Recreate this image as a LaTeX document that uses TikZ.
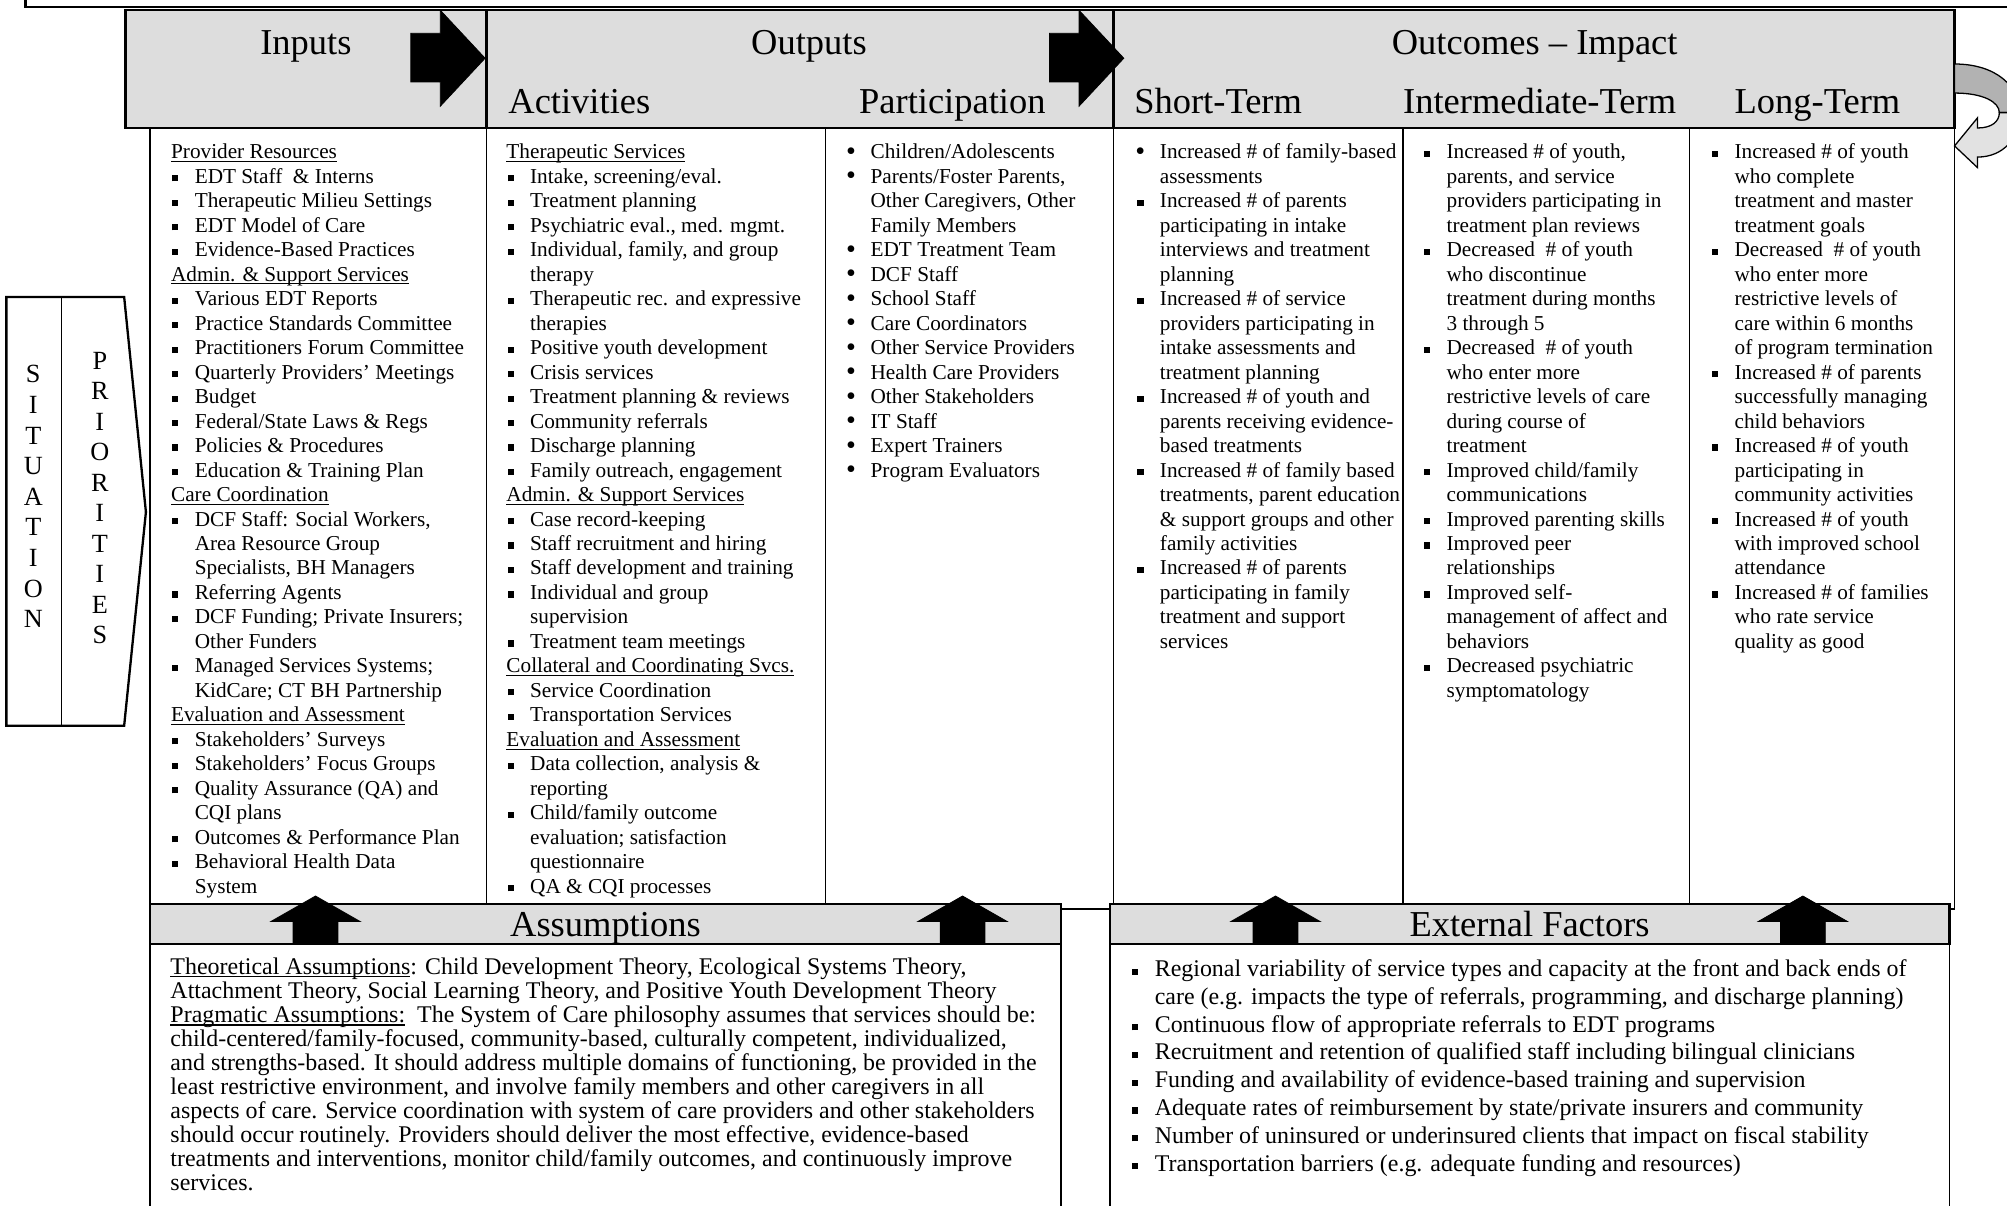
\documentclass[tikz,border=0pt]{standalone}
\usepackage{fontspec}
\setmainfont{Liberation Serif}
\definecolor{hdr}{RGB}{221,221,221}
\definecolor{darkband}{RGB}{178,178,178}
\definecolor{lightband}{RGB}{226,226,226}
\newcommand\bsq{\llap{\rule[1.5pt]{4.8pt}{4.8pt}\hspace{12.8pt}}}
\newcommand\bdt{\llap{\smash{\raisebox{-1.2pt}{\fontsize{22}{22}\selectfont\textbullet}}\hspace{11.5pt}}}
\newcommand\ulx[1]{\setbox0=\hbox{#1}\rlap{\rule[-2.6pt]{\wd0}{0.9pt}}\box0}
\newcommand\hd[1]{\hspace*{-18.5pt}\ulx{#1}}
\newcommand\colm[5]{\foreach \itm [count=\i from 0] in {#5} {\node[ln] (#1-\i) at (#2,{#3+\i*#4}) {\itm};}}
\begin{document}
\begin{tikzpicture}[x=1pt,y=-1pt,
  lnbase/.style={inner sep=0pt, anchor=base west},
  ln/.style={lnbase, font=\fontsize{16.6}{19.13}\selectfont},
  hdtxt/.style={inner sep=0pt, anchor=base, font=\fontsize{28.5}{30}\selectfont},
  blk/.style={fill=black, draw=black, line width=0.6pt, line join=miter},
  thin/.style={line width=1.2pt},
  thick/.style={line width=1.8pt}]
\clip (0,0) rectangle (1568,942);
\fill[white] (0,0) rectangle (1568,942);
% top border line
\draw[thick] (20,-2) -- (20,5.5) -- (1580,5.5);
% header
\draw[thick, fill=hdr] (98,8) rectangle (1527,100);
\draw[thick] (380,8) -- (380,100) (870,8) -- (870,100);
% content
\draw[thin] (117,100) rectangle (1527,710);
\foreach \x in {380,645,870,1096,1320} \draw[thin] (\x,100) -- (\x,706);
\draw[line width=2.2pt] (98,100) -- (1527,100);
% header texts
\node[hdtxt] (inputs) at (239,42.5) {Inputs};
\node[hdtxt] (outputs) at (632,42.5) {Outputs};
\node[hdtxt] (outcomes) at (1199,42.5) {Outcomes -- Impact};
\node[hdtxt, anchor=base west] (activities) at (397,88.5) {Activities};
\node[hdtxt, anchor=base west] (participation) at (671,88.5) {Participation};
\node[hdtxt, anchor=base west] (shortterm) at (886,88.5) {Short-Term};
\node[hdtxt, anchor=base west] (interterm) at (1096,88.5) {Intermediate-Term};
\node[hdtxt, anchor=base west] (longterm) at (1355,88.5) {Long-Term};
% header arrows
\foreach \t in {379,878}
  \fill[blk] ({\t-58},26) -- ({\t-35},26) -- ({\t-35},8) -- (\t,45.5) -- ({\t-35},83) -- ({\t-35},64) -- ({\t-58},64) -- cycle;
% situation / priorities
\draw[thick] (5,232) -- (97,232) -- (114,400) -- (97,567) -- (5,567) -- cycle;
\draw[thin] (48,232) -- (48,567);
\node[align=center, inner sep=0pt, font=\fontsize{20.5}{23.9}\selectfont] (situation) at (26,388) {S\\I\\T\\U\\A\\T\\I\\O\\N};
\node[align=center, inner sep=0pt, font=\fontsize{20.5}{23.8}\selectfont] (priorities) at (78,389) {P\\R\\I\\O\\R\\I\\T\\I\\E\\S};
% columns
\colm{ca}{152}{124}{19.13}{{\hd{Provider Resources}},
{\bsq EDT Staff\ \ \& Interns},
{\bsq Therapeutic Milieu Settings},
{\bsq EDT Model of Care},
{\bsq Evidence-Based Practices},
{\hd{Admin. \& Support Services}},
{\bsq Various EDT Reports},
{\bsq Practice Standards Committee},
{\bsq Practitioners Forum Committee},
{\bsq Quarterly Providers' Meetings},
{\bsq Budget},
{\bsq Federal/State Laws \& Regs},
{\bsq Policies \& Procedures},
{\bsq Education \& Training Plan},
{\hd{Care Coordination}},
{\bsq DCF Staff: Social Workers,},
{Area Resource Group},
{Specialists, BH Managers},
{\bsq Referring Agents},
{\bsq DCF Funding; Private Insurers;},
{Other Funders},
{\bsq Managed Services Systems;},
{KidCare; CT BH Partnership},
{\hd{Evaluation and Assessment}},
{\bsq Stakeholders' Surveys},
{\bsq Stakeholders' Focus Groups},
{\bsq Quality Assurance (QA) and},
{CQI plans},
{\bsq Outcomes \& Performance Plan},
{\bsq Behavioral Health Data},
{System}}
\colm{cb}{414}{124}{19.13}{{\hd{Therapeutic Services}},
{\bsq Intake, screening/eval.},
{\bsq Treatment planning},
{\bsq Psychiatric eval., med. mgmt.},
{\bsq Individual, family, and group},
{therapy},
{\bsq Therapeutic rec. and expressive},
{therapies},
{\bsq Positive youth development},
{\bsq Crisis services},
{\bsq Treatment planning \& reviews},
{\bsq Community referrals},
{\bsq Discharge planning},
{\bsq Family outreach, engagement},
{\hd{Admin. \& Support Services}},
{\bsq Case record-keeping},
{\bsq Staff recruitment and hiring},
{\bsq Staff development and training},
{\bsq Individual and group},
{supervision},
{\bsq Treatment team meetings},
{\hd{Collateral and Coordinating Svcs.}},
{\bsq Service Coordination},
{\bsq Transportation Services},
{\hd{Evaluation and Assessment}},
{\bsq Data collection, analysis \&},
{reporting},
{\bsq Child/family outcome},
{evaluation; satisfaction},
{questionnaire},
{\bsq QA \& CQI processes}}
\colm{cc}{680}{124}{19.13}{{\bdt Children/Adolescents},
{\bdt Parents/Foster Parents,},
{Other Caregivers, Other},
{Family Members},
{\bdt EDT Treatment Team},
{\bdt DCF Staff},
{\bdt School Staff},
{\bdt Care Coordinators},
{\bdt Other Service Providers},
{\bdt Health Care Providers},
{\bdt Other Stakeholders},
{\bdt IT Staff},
{\bdt Expert Trainers},
{\bdt Program Evaluators}}
\colm{cd}{906}{124}{19.13}{{\bdt Increased \# of family-based},
{assessments},
{\bsq Increased \# of parents},
{participating in intake},
{interviews and treatment},
{planning},
{\bsq Increased \# of service},
{providers participating in},
{intake assessments and},
{treatment planning},
{\bsq Increased \# of youth and},
{parents receiving evidence-},
{based treatments},
{\bsq Increased \# of family based},
{treatments, parent education},
{\& support groups and other},
{family activities},
{\bsq Increased \# of parents},
{participating in family},
{treatment and support},
{services}}
\colm{ce}{1130}{124}{19.13}{{\bsq Increased \# of youth,},
{parents, and service},
{providers participating in},
{treatment plan reviews},
{\bsq Decreased\ \ \# of youth},
{who discontinue},
{treatment during months},
{3 through 5},
{\bsq Decreased\ \ \# of youth},
{who enter more},
{restrictive levels of care},
{during course of},
{treatment},
{\bsq Improved child/family},
{communications},
{\bsq Improved parenting skills},
{\bsq Improved peer},
{relationships},
{\bsq Improved self-},
{management of affect and},
{behaviors},
{\bsq Decreased psychiatric},
{symptomatology}}
\colm{cf}{1355}{124}{19.13}{{\bsq Increased \# of youth},
{who complete},
{treatment and master},
{treatment goals},
{\bsq Decreased\ \ \# of youth},
{who enter more},
{restrictive levels of},
{care within 6 months},
{of program termination},
{\bsq Increased \# of parents},
{successfully managing},
{child behaviors},
{\bsq Increased \# of youth},
{participating in},
{community activities},
{\bsq Increased \# of youth},
{with improved school},
{attendance},
{\bsq Increased \# of families},
{who rate service},
{quality as good}}
% assumptions box
\draw[thin] (117,737.5) rectangle (829,960);
\draw[thick, fill=hdr] (117,706) rectangle (829,737.5);
\node[hdtxt] (assumptions) at (473,731.5) {Assumptions};
% external factors box
\draw[thin] (867,737.5) rectangle (1523,960);
\draw[thick, fill=hdr] (867,706) rectangle (1523,737.5);
\node[hdtxt] (external) at (1195,731.5) {External Factors};
% up arrows
\foreach \c in {246.5,752,996.5,1408.5}
  \fill[blk] ({\c-17.5},737.5) -- ({\c-17.5},720) -- ({\c-35},720) -- (\c,700) -- ({\c+35},720) -- ({\c+17.5},720) -- ({\c+17.5},737.5) -- cycle;
\begin{scope}[ln/.style={lnbase, font=\fontsize{18.7}{19}\selectfont}]
% assumptions text
\colm{as}{133}{761}{18.8}{{\ulx{Theoretical Assumptions}: Child Development Theory, Ecological Systems Theory,},
{Attachment Theory, Social Learning Theory, and Positive Youth Development Theory},
{\ulx{Pragmatic Assumptions:}\ \ The System of Care philosophy assumes that services should be:},
{child-centered/family-focused, community-based, culturally competent, individualized,},
{and strengths-based. It should address multiple domains of functioning, be provided in the},
{least restrictive environment, and involve family members and other caregivers in all},
{aspects of care. Service coordination with system of care providers and other stakeholders},
{should occur routinely. Providers should deliver the most effective, evidence-based},
{treatments and interventions, monitor child/family outcomes, and continuously improve},
{services.}}
% external factors text
\colm{ef}{902}{763}{21.7}{{\bsq Regional variability of service types and capacity at the front and back ends of},
{care (e.g. impacts the type of referrals, programming, and discharge planning)},
{\bsq Continuous flow of appropriate referrals to EDT programs},
{\bsq Recruitment and retention of qualified staff including bilingual clinicians},
{\bsq Funding and availability of evidence-based training and supervision},
{\bsq Adequate rates of reimbursement by state/private insurers and community},
{\bsq Number of uninsured or underinsured clients that impact on fiscal stability},
{\bsq Transportation barriers (e.g. adequate funding and resources)}}
\end{scope}
% curved feedback arrow
\draw[fill=darkband, line width=1pt] (1527,50) .. controls (1560,50) and (1578,68) .. (1578,88) -- (1562,88) .. controls (1562,80) and (1550,72.7) .. (1527,72.7) -- cycle;
\draw[fill=lightband, line width=1pt, line join=miter] (1578,88) .. controls (1578,108) and (1565,122.7) .. (1545,122.7) -- (1545,131) -- (1527,114) -- (1545,92) -- (1545,100) .. controls (1556,100) and (1562,95) .. (1562,88) -- cycle;
\end{tikzpicture}
\end{document}
